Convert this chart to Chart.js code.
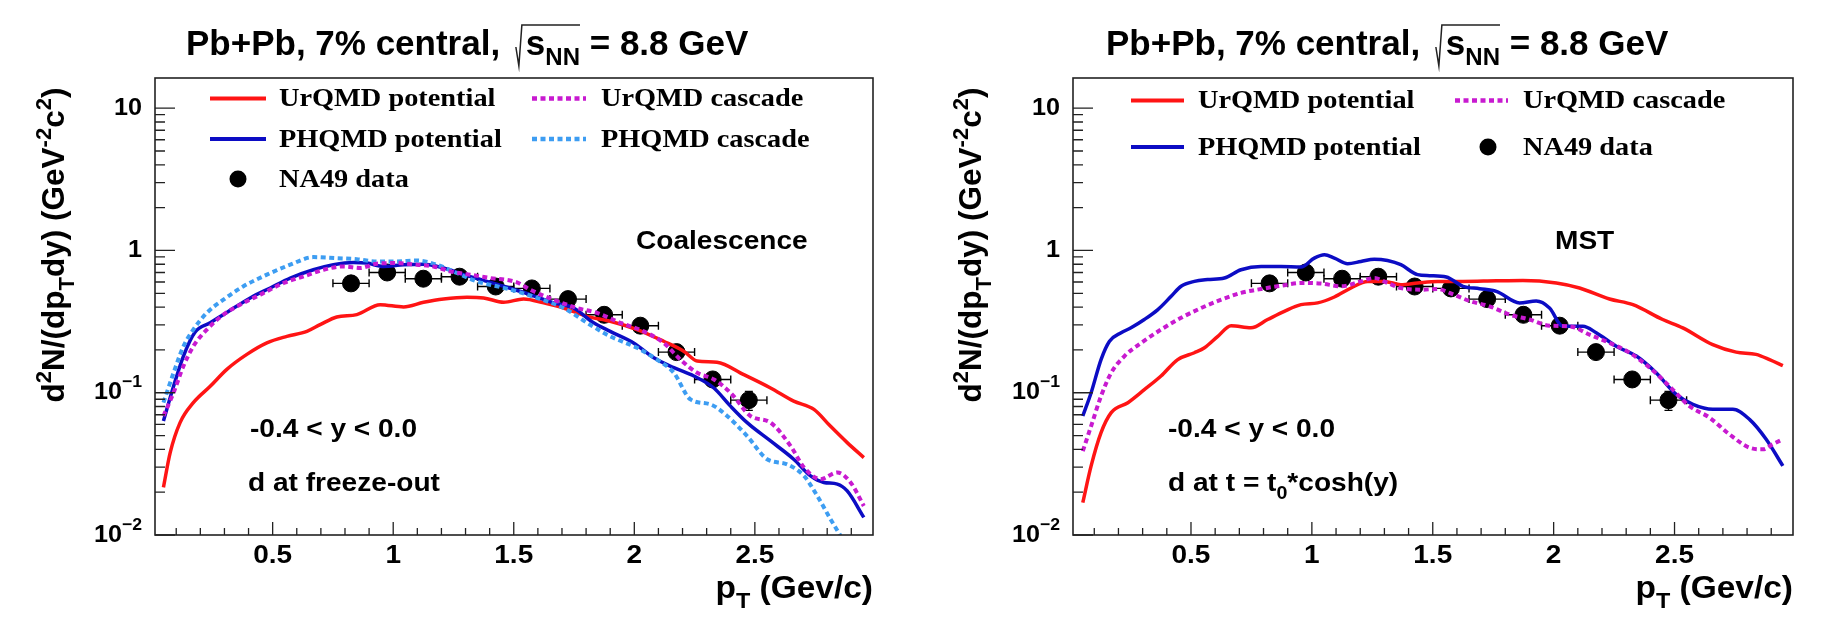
<!DOCTYPE html>
<html>
<head>
<meta charset="utf-8">
<script src="https://cdn.jsdelivr.net/npm/chart.js@4.4.1/dist/chart.umd.min.js"></script>
<style>
  body { margin: 0; background: #fff; width: 1834px; height: 618px; overflow: hidden; position: relative; }
  canvas { position: absolute; top: 0; }
</style>
</head>
<body>
<canvas id="coal" width="917" height="618" style="left:0"></canvas>
<canvas id="mst" width="917" height="618" style="left:917px"></canvas>
<script>
// ---- data ----
const na49Pt = [0.825, 0.975, 1.125, 1.275, 1.425, 1.575, 1.725, 1.875, 2.025, 2.175, 2.325, 2.475];
const na49Y = [0.587, 0.700, 0.633, 0.654, 0.558, 0.541, 0.455, 0.353, 0.296, 0.193, 0.124, 0.0887];
const na49ErrY = [0.02, 0.02, 0.02, 0.02, 0.018, 0.018, 0.016, 0.014, 0.013, 0.012, 0.011, 0.0135];
const na49HalfBin = 0.075;

// left panel: coalescence
const coalUrqmdPotPt = [0.047, 0.075, 0.116, 0.171, 0.241, 0.310, 0.393, 0.476, 0.559, 0.642, 0.697, 0.766, 0.849, 0.946, 1.043, 1.126, 1.209, 1.306, 1.375, 1.458, 1.541, 1.624, 1.707, 1.804, 1.900, 2.011, 2.122, 2.205, 2.261, 2.343, 2.454, 2.565, 2.661, 2.745, 2.813, 2.883, 2.952];
const coalUrqmdPotY = [0.0216, 0.0379, 0.0616, 0.0851, 0.111, 0.146, 0.186, 0.224, 0.249, 0.270, 0.301, 0.341, 0.354, 0.416, 0.401, 0.432, 0.456, 0.469, 0.464, 0.432, 0.456, 0.428, 0.394, 0.344, 0.318, 0.278, 0.230, 0.196, 0.167, 0.164, 0.134, 0.108, 0.0873, 0.0764, 0.0583, 0.0446, 0.0350];

const coalPhqmdPotPt = [0.047, 0.089, 0.130, 0.178, 0.241, 0.310, 0.407, 0.490, 0.573, 0.669, 0.752, 0.835, 0.891, 0.960, 1.043, 1.126, 1.209, 1.292, 1.375, 1.458, 1.568, 1.665, 1.748, 1.831, 1.900, 1.997, 2.081, 2.164, 2.247, 2.330, 2.399, 2.468, 2.565, 2.661, 2.731, 2.786, 2.842, 2.883, 2.952];
const coalPhqmdPotY = [0.0632, 0.111, 0.181, 0.266, 0.310, 0.367, 0.464, 0.545, 0.640, 0.732, 0.794, 0.824, 0.815, 0.772, 0.794, 0.800, 0.753, 0.676, 0.616, 0.560, 0.489, 0.428, 0.394, 0.310, 0.270, 0.224, 0.176, 0.150, 0.131, 0.108, 0.0805, 0.0616, 0.0458, 0.0341, 0.0260, 0.0234, 0.0228, 0.0204, 0.0133];

const coalUrqmdCasPt = [0.047, 0.089, 0.130, 0.171, 0.227, 0.296, 0.365, 0.449, 0.546, 0.629, 0.711, 0.794, 0.863, 0.932, 1.015, 1.098, 1.167, 1.236, 1.319, 1.402, 1.513, 1.568, 1.665, 1.762, 1.845, 1.942, 2.039, 2.122, 2.191, 2.261, 2.330, 2.399, 2.482, 2.565, 2.648, 2.704, 2.773, 2.842, 2.897, 2.952];
const coalUrqmdCasY = [0.0686, 0.100, 0.154, 0.212, 0.278, 0.354, 0.416, 0.489, 0.591, 0.657, 0.732, 0.772, 0.753, 0.807, 0.815, 0.794, 0.772, 0.713, 0.676, 0.640, 0.597, 0.530, 0.451, 0.394, 0.364, 0.310, 0.270, 0.224, 0.171, 0.138, 0.124, 0.100, 0.0686, 0.0616, 0.0423, 0.0298, 0.0247, 0.0275, 0.0234, 0.0160];

const coalPhqmdCasPt = [0.047, 0.089, 0.130, 0.171, 0.227, 0.296, 0.379, 0.476, 0.573, 0.669, 0.766, 0.849, 0.932, 1.015, 1.098, 1.181, 1.264, 1.347, 1.430, 1.513, 1.596, 1.707, 1.804, 1.900, 2.011, 2.094, 2.164, 2.233, 2.316, 2.385, 2.468, 2.551, 2.634, 2.704, 2.759, 2.814, 2.855];
const coalPhqmdCasY = [0.0851, 0.138, 0.212, 0.278, 0.364, 0.451, 0.560, 0.676, 0.794, 0.898, 0.883, 0.869, 0.837, 0.837, 0.850, 0.794, 0.694, 0.606, 0.560, 0.516, 0.464, 0.394, 0.310, 0.249, 0.207, 0.171, 0.138, 0.0897, 0.0828, 0.0686, 0.0496, 0.0341, 0.0314, 0.0260, 0.0188, 0.0129, 0.0099];

// right panel: MST
const mstUrqmdPotPt = [0.0525, 0.087, 0.128, 0.170, 0.239, 0.307, 0.376, 0.445, 0.514, 0.556, 0.611, 0.666, 0.748, 0.817, 0.886, 0.955, 1.024, 1.093, 1.162, 1.231, 1.300, 1.368, 1.437, 1.520, 1.625, 1.763, 1.873, 2.011, 2.107, 2.231, 2.328, 2.451, 2.534, 2.658, 2.755, 2.837, 2.893, 2.948];
const mstUrqmdPotY = [0.0169, 0.0306, 0.0524, 0.0724, 0.0851, 0.105, 0.131, 0.171, 0.191, 0.207, 0.249, 0.296, 0.286, 0.327, 0.373, 0.416, 0.428, 0.471, 0.545, 0.606, 0.606, 0.575, 0.591, 0.606, 0.606, 0.612, 0.615, 0.591, 0.545, 0.456, 0.416, 0.327, 0.286, 0.218, 0.193, 0.186, 0.171, 0.155];

const mstPhqmdPotPt = [0.0525, 0.087, 0.128, 0.163, 0.211, 0.252, 0.307, 0.363, 0.418, 0.459, 0.514, 0.569, 0.638, 0.707, 0.790, 0.872, 0.955, 1.010, 1.052, 1.093, 1.148, 1.203, 1.258, 1.313, 1.368, 1.437, 1.487, 1.556, 1.625, 1.694, 1.763, 1.859, 1.928, 1.983, 2.038, 2.121, 2.176, 2.259, 2.342, 2.424, 2.507, 2.576, 2.658, 2.741, 2.810, 2.879, 2.948];
const mstPhqmdPotY = [0.0686, 0.100, 0.171, 0.230, 0.264, 0.286, 0.327, 0.384, 0.476, 0.560, 0.606, 0.624, 0.640, 0.732, 0.772, 0.772, 0.764, 0.884, 0.933, 0.884, 0.807, 0.837, 0.869, 0.850, 0.794, 0.676, 0.665, 0.651, 0.560, 0.539, 0.516, 0.428, 0.441, 0.394, 0.293, 0.293, 0.264, 0.212, 0.181, 0.138, 0.0973, 0.0828, 0.0764, 0.0764, 0.0650, 0.0471, 0.0306];

const mstUrqmdCasPt = [0.0525, 0.087, 0.128, 0.170, 0.225, 0.294, 0.376, 0.459, 0.542, 0.625, 0.707, 0.790, 0.872, 0.955, 1.038, 1.121, 1.203, 1.258, 1.313, 1.368, 1.451, 1.520, 1.570, 1.653, 1.735, 1.818, 1.900, 1.983, 2.066, 2.149, 2.231, 2.314, 2.397, 2.479, 2.562, 2.645, 2.727, 2.810, 2.865, 2.906, 2.948];
const mstUrqmdCasY = [0.0389, 0.0583, 0.0946, 0.138, 0.181, 0.224, 0.278, 0.336, 0.394, 0.451, 0.503, 0.536, 0.565, 0.591, 0.585, 0.560, 0.606, 0.640, 0.591, 0.545, 0.530, 0.536, 0.503, 0.441, 0.405, 0.354, 0.327, 0.296, 0.293, 0.256, 0.224, 0.191, 0.150, 0.111, 0.0805, 0.0668, 0.0510, 0.0411, 0.0400, 0.0434, 0.0471];

// axes
const xMin = 0.012, xMax = 2.99, yMin = 0.01, yMax = 16.3;
const xTickValues = [0.5, 1, 1.5, 2, 2.5];
const xTickLabels = ['0.5', '1', '1.5', '2', '2.5'];
const yTickValues = [0.01, 0.1, 1, 10];
const yTickLabels = [['10', '\u22122'], ['10', '\u22121'], ['1', ''], ['10', '']];

const RED = '#ff1414', BLUE = '#0c0cc4', MAGENTA = '#c81ad0', AZURE = '#3d9df2';
const SANS = '"Liberation Sans", Arial, sans-serif';
const SERIF = '"Liberation Serif", "Times New Roman", serif';

function pts(xs, ys) { return xs.map((x, i) => ({ x: x, y: ys[i] })); }

// draws a run of [text, mode] pieces, mode 0 normal, 1 superscript, -1 subscript
// sx stretches the glyphs horizontally
function rich(ctx, parts, x, y, size, align, family, sx) {
  sx = sx || 1;
  const small = size * 0.7;
  let w = 0;
  parts.forEach(p => {
    ctx.font = 'bold ' + (p[1] ? small : size) + 'px ' + family;
    w += ctx.measureText(p[0]).width * sx;
  });
  let cx = align === 'right' ? x - w : align === 'center' ? x - w / 2 : x;
  parts.forEach(p => {
    ctx.font = 'bold ' + (p[1] ? small : size) + 'px ' + family;
    const dy = p[1] === 1 ? -size * 0.42 : p[1] === -1 ? size * 0.32 : 0;
    ctx.save();
    ctx.translate(cx, y + dy);
    ctx.scale(sx, 1);
    ctx.fillText(p[0], 0, 0);
    ctx.restore();
    cx += ctx.measureText(p[0]).width * sx;
  });
  return w;
}

function drawTitle(ctx, x, base) {
  const F = 35, S = 24;
  const a = 'Pb+Pb, 7% central, ', b = ' = 8.8 GeV';
  ctx.font = 'bold ' + F + 'px ' + SANS;
  ctx.fillText(a, x, base);
  x += ctx.measureText(a).width + 6;
  const ws = ctx.measureText('s').width;
  ctx.font = 'bold ' + S + 'px ' + SANS;
  const wn = ctx.measureText('NN').width;
  // radical sign
  const top = base - 30;
  ctx.beginPath();
  ctx.lineWidth = 1.5;
  ctx.moveTo(x, base - 8);
  ctx.lineTo(x + 3, base + 11);
  ctx.lineTo(x + 6, top);
  ctx.lineTo(x + 10 + ws + wn, top);
  ctx.stroke();
  x += 10;
  ctx.font = 'bold ' + F + 'px ' + SANS;
  ctx.fillText('s', x, base);
  x += ws;
  ctx.font = 'bold ' + S + 'px ' + SANS;
  ctx.fillText('NN', x, base + 10);
  x += wn;
  ctx.font = 'bold ' + F + 'px ' + SANS;
  ctx.fillText(b, x, base);
}

const rootFrame = {
  id: 'rootFrame',
  beforeDatasetsDraw(chart) {
    // NA49 error bars
    const ctx = chart.ctx, xs = chart.scales.x, ys = chart.scales.y;
    ctx.save();
    ctx.strokeStyle = '#000';
    ctx.lineWidth = 1.4;
    na49Pt.forEach((pt, i) => {
      const x0 = xs.getPixelForValue(pt - na49HalfBin), x1 = xs.getPixelForValue(pt + na49HalfBin);
      const xc = xs.getPixelForValue(pt), yc = ys.getPixelForValue(na49Y[i]);
      const ya = ys.getPixelForValue(na49Y[i] - na49ErrY[i]), yb = ys.getPixelForValue(na49Y[i] + na49ErrY[i]);
      ctx.beginPath();
      ctx.moveTo(x0, yc); ctx.lineTo(x1, yc);
      ctx.moveTo(x0, yc - 4); ctx.lineTo(x0, yc + 4);
      ctx.moveTo(x1, yc - 4); ctx.lineTo(x1, yc + 4);
      ctx.moveTo(xc, ya); ctx.lineTo(xc, yb);
      ctx.moveTo(xc - 4, ya); ctx.lineTo(xc + 4, ya);
      ctx.moveTo(xc - 4, yb); ctx.lineTo(xc + 4, yb);
      ctx.stroke();
    });
    ctx.restore();
  },
  afterDraw(chart) {
    const ctx = chart.ctx, a = chart.chartArea, xs = chart.scales.x, ys = chart.scales.y;
    const info = chart.options.plugins.rootFrame;
    ctx.save();
    ctx.fillStyle = '#000';
    ctx.strokeStyle = '#222';
    // frame
    ctx.lineWidth = 1.6;
    ctx.strokeRect(a.left, a.top, a.right - a.left, a.bottom - a.top);
    // ticks point inwards, ROOT style
    ctx.lineWidth = 1.3;
    ctx.beginPath();
    for (let k = 1; k <= 29; k++) {
      const px = xs.getPixelForValue(k / 10);
      const len = k % 5 === 0 ? 13 : 7;
      ctx.moveTo(px, a.bottom); ctx.lineTo(px, a.bottom - len);
    }
    for (let e = -2; e <= 1; e++) {
      for (let m = 1; m <= 9; m++) {
        const v = m * Math.pow(10, e);
        if (v > yMax) break;
        const py = ys.getPixelForValue(v);
        ctx.moveTo(a.left, py); ctx.lineTo(a.left + (m === 1 ? 20 : 10), py);
      }
    }
    ctx.stroke();
    // tick labels
    ctx.textBaseline = 'middle';
    xTickValues.forEach((v, i) => rich(ctx, [[xTickLabels[i], 0]], xs.getPixelForValue(v), a.bottom + 21, 25, 'center', SANS, 1.12));
    yTickValues.forEach((v, i) => {
      rich(ctx, [[yTickLabels[i][0], 0], [yTickLabels[i][1], 1]], a.left - 13, ys.getPixelForValue(v), 24, 'right', SANS, 1.05);
    });
    // axis titles
    ctx.textBaseline = 'alphabetic';
    rich(ctx, [['p', 0], ['T', -1], [' (Gev/c)', 0]], a.right, 598, 31, 'right', SANS, 1.08);
    ctx.save();
    ctx.translate(64, 245);
    ctx.rotate(-Math.PI / 2);
    rich(ctx, [['d', 0], ['2', 1], ['N/(dp', 0], ['T', -1], ['dy) (GeV', 0], ['-2', 1], ['c', 0], ['2', 1], [')', 0]], 0, 0, 31.5, 'center', SANS);
    ctx.restore();
    // title
    drawTitle(ctx, info.titleX, 55);
    // legend
    ctx.textBaseline = 'middle';
    info.legend.forEach(it => {
      if (it.dot) {
        ctx.beginPath();
        ctx.arc(it.x1, it.y, 8.5, 0, Math.PI * 2);
        ctx.fill();
      } else {
        ctx.save();
        ctx.strokeStyle = it.color;
        ctx.lineWidth = it.dash ? 4.5 : 4;
        ctx.setLineDash(it.dash ? [5, 3.5] : []);
        ctx.beginPath();
        ctx.moveTo(it.x1, it.y); ctx.lineTo(it.x2, it.y);
        ctx.stroke();
        ctx.restore();
      }
      rich(ctx, [[it.text, 0]], it.tx, it.y + 1, 26, 'left', SERIF, 1.09);
    });
    // annotations
    ctx.textBaseline = 'alphabetic';
    info.notes.forEach(n => rich(ctx, n.parts, n.x, n.y, 26, 'left', SANS, 1.08));
    ctx.restore();
  }
};

function line(label, xs, ys, color, dashed, order) {
  return {
    label: label, data: pts(xs, ys), borderColor: color,
    borderWidth: dashed ? 4 : 3.5, borderDash: dashed ? [5, 3.5] : [],
    pointRadius: 0, fill: false, cubicInterpolationMode: 'monotone', order: order
  };
}

function panel(id, lines, padL, padR, info) {
  const datasets = lines.slice();
  datasets.push({
    label: 'NA49 data', type: 'scatter', data: pts(na49Pt, na49Y),
    pointRadius: 8.5, pointBackgroundColor: '#000', pointBorderColor: '#000', order: 10
  });
  return new Chart(document.getElementById(id), {
    type: 'line',
    data: { datasets: datasets },
    options: {
      responsive: false, animation: false,
      layout: { padding: { left: padL, right: padR, top: 78, bottom: 83 } },
      scales: {
        x: { type: 'linear', min: xMin, max: xMax, display: false },
        y: { type: 'logarithmic', min: yMin, max: yMax, display: false }
      },
      plugins: { legend: { display: false }, tooltip: { enabled: false }, rootFrame: info }
    },
    plugins: [rootFrame]
  });
}

panel('coal', [
  line('UrQMD potential', coalUrqmdPotPt, coalUrqmdPotY, RED, false, 3),
  line('PHQMD potential', coalPhqmdPotPt, coalPhqmdPotY, BLUE, false, 2),
  line('PHQMD cascade', coalPhqmdCasPt, coalPhqmdCasY, AZURE, true, 1),
  line('UrQMD cascade', coalUrqmdCasPt, coalUrqmdCasY, MAGENTA, true, 0)
], 155, 44, {
  titleX: 186,
  legend: [
    { color: RED, x1: 210, x2: 266, y: 98.5, text: 'UrQMD potential', tx: 279 },
    { color: MAGENTA, dash: true, x1: 532, x2: 586, y: 98.5, text: 'UrQMD cascade', tx: 601 },
    { color: BLUE, x1: 210, x2: 266, y: 139, text: 'PHQMD potential', tx: 279 },
    { color: AZURE, dash: true, x1: 532, x2: 586, y: 139, text: 'PHQMD cascade', tx: 601 },
    { dot: true, x1: 238, y: 179, text: 'NA49 data', tx: 279 }
  ],
  notes: [
    { parts: [['Coalescence', 0]], x: 636, y: 249 },
    { parts: [['-0.4 < y < 0.0', 0]], x: 250, y: 437 },
    { parts: [['d at freeze-out', 0]], x: 248, y: 491 }
  ]
});

panel('mst', [
  line('UrQMD potential', mstUrqmdPotPt, mstUrqmdPotY, RED, false, 3),
  line('PHQMD potential', mstPhqmdPotPt, mstPhqmdPotY, BLUE, false, 2),
  line('UrQMD cascade', mstUrqmdCasPt, mstUrqmdCasY, MAGENTA, true, 0)
], 156, 41, {
  titleX: 189,
  legend: [
    { color: RED, x1: 214, x2: 267, y: 100.5, text: 'UrQMD potential', tx: 281 },
    { color: MAGENTA, dash: true, x1: 538, x2: 591, y: 100.5, text: 'UrQMD cascade', tx: 606 },
    { color: BLUE, x1: 214, x2: 267, y: 147, text: 'PHQMD potential', tx: 281 },
    { dot: true, x1: 571, y: 147, text: 'NA49 data', tx: 606 }
  ],
  notes: [
    { parts: [['MST', 0]], x: 638, y: 249 },
    { parts: [['-0.4 < y < 0.0', 0]], x: 251, y: 437 },
    { parts: [['d at t = t', 0], ['0', -1], ['*cosh(y)', 0]], x: 251, y: 491 }
  ]
});
</script>
</body>
</html>
